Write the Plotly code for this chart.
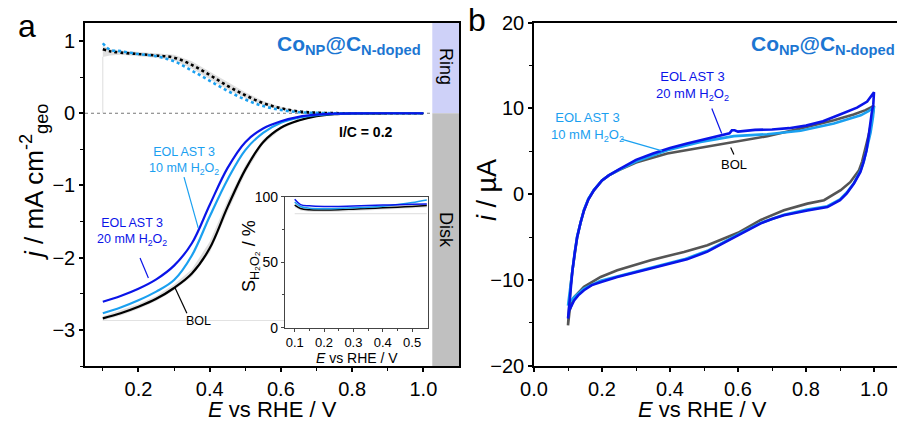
import plotly.graph_objects as go

W, H = 897, 423

# ---------------- Panel a: RRDE (disk + ring) ----------------
E_disk = [0.10, 0.15, 0.20, 0.25, 0.30, 0.35, 0.40, 0.45, 0.50, 0.55, 0.60, 0.65, 0.70, 0.75, 0.80, 0.90, 1.00]
disk_bol = [-2.84, -2.77, -2.68, -2.57, -2.42, -2.22, -1.87, -1.30, -0.78, -0.40, -0.20, -0.10, -0.04, -0.012, -0.003, 0.0, 0.0]
disk_bol_hi = [-2.81, -2.73, -2.64, -2.53, -2.37, -2.16, -1.78, -1.21, -0.72, -0.36, -0.18, -0.09, -0.035, -0.01, -0.002, 0.0, 0.0]
disk_bol_lo = [-2.87, -2.80, -2.71, -2.60, -2.45, -2.26, -1.93, -1.37, -0.83, -0.43, -0.22, -0.11, -0.045, -0.014, -0.004, 0.0, 0.0]
disk_eol10 = [-2.77, -2.69, -2.59, -2.47, -2.31, -1.97, -1.43, -0.92, -0.51, -0.27, -0.13, -0.06, -0.025, -0.01, -0.002, 0.0, 0.0]
disk_eol20 = [-2.61, -2.53, -2.43, -2.30, -2.11, -1.80, -1.27, -0.76, -0.40, -0.21, -0.11, -0.05, -0.02, -0.006, -0.001, 0.0, 0.0]

E_ring = [0.10, 0.12, 0.15, 0.20, 0.25, 0.30, 0.35, 0.40, 0.45, 0.50, 0.55, 0.60, 0.65, 0.70, 0.75, 0.80, 0.90, 1.00]
ring_bol = [0.885, 0.86, 0.84, 0.82, 0.80, 0.77, 0.67, 0.53, 0.38, 0.25, 0.14, 0.07, 0.025, 0.008, 0.002, 0.0, 0.0, 0.0]
ring_bol_hi = [0.93, 0.89, 0.87, 0.85, 0.83, 0.81, 0.72, 0.58, 0.43, 0.29, 0.17, 0.09, 0.035, 0.012, 0.004, 0.0, 0.0, 0.0]
ring_bol_lo = [0.78, 0.80, 0.81, 0.79, 0.77, 0.73, 0.62, 0.48, 0.33, 0.21, 0.11, 0.05, 0.015, 0.004, 0.001, 0.0, 0.0, 0.0]
ring_eol10 = [0.97, 0.88, 0.86, 0.82, 0.79, 0.72, 0.59, 0.45, 0.31, 0.19, 0.10, 0.045, 0.015, 0.005, 0.0, 0.0, 0.0, 0.0]

# inset: H2O2 selectivity
E_sel = [0.10, 0.12, 0.15, 0.20, 0.25, 0.30, 0.35, 0.40, 0.45, 0.50, 0.55]
sel_bol = [93.5, 91.0, 90.0, 89.8, 90.0, 90.5, 91.0, 91.5, 92.0, 92.6, 93.2]
sel_bol_hi = [95.0, 92.5, 91.5, 91.3, 91.5, 92.0, 92.5, 93.0, 93.5, 94.1, 94.7]
sel_bol_lo = [92.0, 89.5, 88.5, 88.3, 88.5, 89.0, 89.5, 90.0, 90.5, 91.1, 91.7]
sel_eol10 = [96.0, 92.5, 91.2, 90.8, 91.0, 91.5, 92.0, 92.8, 94.0, 95.5, 97.5]
sel_eol20 = [98.0, 94.0, 93.0, 92.5, 92.6, 92.9, 93.3, 93.6, 93.9, 94.2, 94.5]

# ---------------- Panel b: CVs (closed loops) ----------------
E_cv_bol = [0.100, 0.103, 0.108, 0.113, 0.120, 0.127, 0.137, 0.147, 0.160, 0.176, 0.200, 0.220, 0.250, 0.300, 0.392, 0.490, 0.588, 0.686, 0.784, 0.882, 0.940, 0.975, 1.000,
            0.995, 0.985, 0.975, 0.965, 0.956, 0.930, 0.902, 0.870, 0.853, 0.804, 0.735, 0.667, 0.600, 0.510, 0.441, 0.343, 0.245, 0.196, 0.147, 0.118, 0.105, 0.100]
i_cv_bol = [-15.3, -13.2, -10.6, -8.9, -6.8, -5.0, -3.3, -1.9, -0.6, 0.45, 1.6, 2.2, 2.8, 3.7, 4.75, 5.45, 6.1, 6.77, 7.66, 8.63, 9.3, 9.8, 10.3,
            9.0, 7.0, 5.3, 3.8, 2.8, 1.4, 0.47, -0.3, -0.7, -1.1, -1.87, -3.0, -4.5, -5.95, -6.73, -7.7, -8.87, -9.65, -10.8, -12.0, -13.5, -15.3]

E_cv_eol10 = [0.100, 0.103, 0.108, 0.113, 0.120, 0.127, 0.137, 0.147, 0.160, 0.176, 0.200, 0.220, 0.250, 0.300, 0.392, 0.490, 0.588, 0.686, 0.784, 0.882, 0.961, 0.985, 1.000,
              0.997, 0.990, 0.980, 0.970, 0.961, 0.941, 0.920, 0.900, 0.863, 0.804, 0.735, 0.667, 0.600, 0.510, 0.441, 0.343, 0.245, 0.196, 0.147, 0.118, 0.105, 0.100]
i_cv_eol10 = [-13.0, -12.0, -10.3, -8.8, -6.7, -4.9, -3.2, -1.8, -0.5, 0.5, 1.6, 2.2, 2.85, 3.8, 5.13, 6.1, 6.77, 7.0, 7.39, 8.25, 9.2, 9.7, 10.2,
              9.0, 7.2, 5.3, 3.8, 2.8, 1.3, 0.2, -0.6, -1.4, -1.8, -2.4, -3.35, -4.7, -6.6, -7.6, -8.6, -9.55, -10.1, -11.0, -12.0, -12.6, -13.0]

E_cv_eol20 = [0.100, 0.103, 0.108, 0.113, 0.120, 0.127, 0.137, 0.147, 0.160, 0.176, 0.200, 0.220, 0.250, 0.300, 0.350, 0.400, 0.450, 0.500, 0.550, 0.575, 0.582, 0.590, 0.600, 0.650, 0.700, 0.750, 0.800, 0.850, 0.900, 0.950, 0.980, 1.000,
              0.998, 0.993, 0.985, 0.978, 0.968, 0.960, 0.941, 0.920, 0.900, 0.863, 0.804, 0.735, 0.700, 0.667, 0.600, 0.550, 0.510, 0.450, 0.400, 0.343, 0.300, 0.245, 0.200, 0.170, 0.147, 0.130, 0.118, 0.110, 0.103, 0.100]
i_cv_eol20 = [-14.5, -13.0, -10.5, -8.9, -6.8, -5.0, -3.3, -1.9, -0.6, 0.45, 1.6, 2.2, 2.9, 4.0, 4.75, 5.4, 5.9, 6.4, 6.9, 7.1, 7.45, 7.45, 7.3, 7.5, 7.55, 7.7, 8.0, 8.5, 9.3, 10.1, 10.8, 11.9,
              10.5, 9.4, 7.0, 5.1, 3.6, 2.6, 1.25, 0.1, -0.7, -1.5, -1.9, -2.45, -2.9, -3.4, -4.8, -5.9, -6.7, -7.6, -8.1, -8.7, -9.1, -9.65, -10.2, -10.6, -11.2, -11.8, -12.4, -13.0, -13.6, -14.5]

# ---------------- styling ----------------
C_BOL = "#000000"
C_BOL_CV = "#555555"
C_EOL10 = "#1AA0F0"
C_EOL20 = "#0A14E8"
C_TITLE = "#1C76D2"
C_BAND = "rgba(150,150,150,0.3)"
FONT = "Liberation Sans"

def px(x):
    return x / W

def py(y):
    return 1 - y / H

fig = go.Figure()

# ring band + disk band (panel a)
fig.add_trace(go.Scatter(x=E_ring + E_ring[::-1], y=ring_bol_hi + ring_bol_lo[::-1], fill="toself",
                         fillcolor=C_BAND, line=dict(width=0), mode="lines", hoverinfo="skip",
                         xaxis="x", yaxis="y", showlegend=False))
fig.add_trace(go.Scatter(x=E_disk + E_disk[::-1], y=disk_bol_hi + disk_bol_lo[::-1], fill="toself",
                         fillcolor=C_BAND, line=dict(width=0), mode="lines", hoverinfo="skip",
                         xaxis="x", yaxis="y", showlegend=False))
# faint baselines of the error band
fig.add_trace(go.Scatter(x=[E_ring[0], E_ring[0]], y=[0, ring_bol_lo[0]], mode="lines",
                         line=dict(color="#dddddd", width=1), xaxis="x", yaxis="y", showlegend=False))
fig.add_trace(go.Scatter(x=[E_disk[0], E_disk[-1]], y=[disk_bol_lo[0], disk_bol_lo[0]], mode="lines",
                         line=dict(color="#e2e2e2", width=1), xaxis="x", yaxis="y", showlegend=False))
# zero line
fig.add_trace(go.Scatter(x=[0.05, 1.025], y=[0, 0], mode="lines",
                         line=dict(color="#777777", width=1, dash="dot"), xaxis="x", yaxis="y", showlegend=False))

# ring currents (dotted)
fig.add_trace(go.Scatter(x=E_ring, y=ring_bol, mode="lines", line=dict(color=C_BOL, width=2.6, dash="dot", shape="spline"),
                         xaxis="x", yaxis="y", showlegend=False))
fig.add_trace(go.Scatter(x=E_ring, y=ring_eol10, mode="lines", line=dict(color=C_EOL10, width=2.6, dash="dot", shape="spline"),
                         xaxis="x", yaxis="y", showlegend=False))
# disk currents
fig.add_trace(go.Scatter(x=E_disk, y=disk_bol, mode="lines", line=dict(color=C_BOL, width=2.2, shape="spline"),
                         xaxis="x", yaxis="y", name="BOL", showlegend=False))
fig.add_trace(go.Scatter(x=E_disk, y=disk_eol10, mode="lines", line=dict(color=C_EOL10, width=2.2, shape="spline"),
                         xaxis="x", yaxis="y", name="EOL AST 3 10 mM", showlegend=False))
fig.add_trace(go.Scatter(x=E_disk, y=disk_eol20, mode="lines", line=dict(color=C_EOL20, width=2.2, shape="spline"),
                         xaxis="x", yaxis="y", name="EOL AST 3 20 mM", showlegend=False))

# inset
fig.add_trace(go.Scatter(x=E_sel + E_sel[::-1], y=sel_bol_hi + sel_bol_lo[::-1], fill="toself",
                         fillcolor=C_BAND, line=dict(width=0), mode="lines", hoverinfo="skip",
                         xaxis="x3", yaxis="y3", showlegend=False))
fig.add_trace(go.Scatter(x=[E_sel[0], E_sel[-1]], y=[sel_bol_lo[2] - 1.5, sel_bol_lo[2] - 1.5], mode="lines",
                         line=dict(color="#dddddd", width=1), xaxis="x3", yaxis="y3", showlegend=False))
fig.add_trace(go.Scatter(x=E_sel, y=sel_bol, mode="lines", line=dict(color=C_BOL, width=1.5, shape="spline"),
                         xaxis="x3", yaxis="y3", showlegend=False))
fig.add_trace(go.Scatter(x=E_sel, y=sel_eol10, mode="lines", line=dict(color=C_EOL10, width=1.5, shape="spline"),
                         xaxis="x3", yaxis="y3", showlegend=False))
fig.add_trace(go.Scatter(x=E_sel, y=sel_eol20, mode="lines", line=dict(color=C_EOL20, width=1.5, shape="spline"),
                         xaxis="x3", yaxis="y3", showlegend=False))

# panel b CVs
fig.add_trace(go.Scatter(x=E_cv_bol, y=i_cv_bol, mode="lines", line=dict(color=C_BOL_CV, width=2.6),
                         xaxis="x2", yaxis="y2", showlegend=False))
fig.add_trace(go.Scatter(x=E_cv_eol10, y=i_cv_eol10, mode="lines", line=dict(color=C_EOL10, width=2.6),
                         xaxis="x2", yaxis="y2", showlegend=False))
fig.add_trace(go.Scatter(x=E_cv_eol20, y=i_cv_eol20, mode="lines", line=dict(color=C_EOL20, width=2.6),
                         xaxis="x2", yaxis="y2", showlegend=False))

tickfont = dict(family=FONT, size=20, color="#000")
axcommon = dict(showgrid=False, zeroline=False, showline=True, linecolor="#000", linewidth=1.6,
                ticks="outside", ticklen=4, tickwidth=1.5, tickcolor="#000", tickfont=tickfont,
                automargin=False)
minor_kw = dict(ticklen=3, tickwidth=1.3, tickcolor="#000", ticks="outside")

layout = dict(
    width=W, height=H, margin=dict(l=0, r=0, t=0, b=0, autoexpand=False),
    paper_bgcolor="white", plot_bgcolor="white", showlegend=False,
    font=dict(family=FONT, color="#000"),
    xaxis=dict(domain=[px(85), px(459)], range=[0.05, 1.1], anchor="y",
               tickvals=[0.2, 0.4, 0.6, 0.8, 1.0], ticktext=["0.2", "0.4", "0.6", "0.8", "1.0"],
               minor=dict(tickvals=[0.1, 0.3, 0.5, 0.7, 0.9], **minor_kw),
               mirror=True, **axcommon),
    yaxis=dict(domain=[py(366), py(23)], range=[-3.5, 1.25], anchor="x",
               tickvals=[-3, -2, -1, 0, 1],
               minor=dict(tickvals=[-3.5, -2.5, -1.5, -0.5, 0.5], **minor_kw),
               mirror=True, **axcommon),
    xaxis2=dict(domain=[px(534), 1.0], range=[0, 363 / 340], anchor="y2",
                tickvals=[0.0, 0.2, 0.4, 0.6, 0.8, 1.0], ticktext=["0.0", "0.2", "0.4", "0.6", "0.8", "1.0"],
                minor=dict(tickvals=[0.1, 0.3, 0.5, 0.7, 0.9], **minor_kw),
                mirror=True, **axcommon),
    yaxis2=dict(domain=[py(365.7), py(22.7)], range=[-20, 20], anchor="x2",
                tickvals=[-20, -10, 0, 10, 20],
                minor=dict(tickvals=[-15, -5, 5, 15], **minor_kw),
                **axcommon),
    xaxis3=dict(domain=[px(285), px(427.7)], range=[0.067, 0.553], anchor="y3", automargin=False,
                showgrid=False, zeroline=False, showline=True, linecolor="#444", linewidth=1.3, mirror=True,
                ticks="outside", ticklen=3, tickwidth=1, tickcolor="#444",
                tickvals=[0.1, 0.2, 0.3, 0.4, 0.5], ticktext=["0.1", "0.2", "0.3", "0.4", "0.5"],
                minor=dict(tickvals=[0.15, 0.25, 0.35, 0.45], ticklen=2, tickwidth=1, tickcolor="#444", ticks="outside"),
                tickfont=dict(family=FONT, size=13, color="#000")),
    yaxis3=dict(domain=[py(327.7), py(196.7)], range=[0, 100], anchor="x3", automargin=False,
                showgrid=False, zeroline=False, showline=True, linecolor="#444", linewidth=1.3, mirror=True,
                ticks="outside", ticklen=3, tickwidth=1, tickcolor="#444",
                tickvals=[0, 50, 100],
                minor=dict(tickvals=[25, 75], ticklen=2, tickwidth=1, tickcolor="#444", ticks="outside"),
                tickfont=dict(family=FONT, size=14, color="#000")),
)
fig.update_layout(**layout)

# Ring / Disk side strips
fig.add_shape(type="rect", xref="x", yref="y", x0=1.025, x1=1.1, y0=0, y1=1.25,
              fillcolor="#CED1F8", line=dict(width=0), layer="below")
fig.add_shape(type="rect", xref="x", yref="y", x0=1.025, x1=1.1, y0=-3.5, y1=0,
              fillcolor="#C0C0C0", line=dict(width=0), layer="below")


def pann(text, x, y, size, color="#000", angle=0, xanchor="center", yanchor="middle"):
    return dict(text=text, x=px(x), y=py(y), xref="paper", yref="paper", showarrow=False,
                xanchor=xanchor, yanchor=yanchor, textangle=angle,
                font=dict(family=FONT, size=size, color=color))


ann = []
ann.append(pann("Ring", 446, 66, 18, angle=90))
ann.append(pann("Disk", 446, 230, 18, angle=90))
# panel letters
ann.append(pann("a", 27, 26, 32))
ann.append(pann("b", 477, 20, 32))
# axis titles
ann.append(pann("<i>j</i> / mA cm<sup>-2</sup><sub>geo</sub>", 34, 182, 26, angle=-90))
ann.append(pann("<i>i</i> / µA", 487, 190, 27, angle=-90))
ann.append(pann("<i>E</i> vs RHE / V", 272, 409.5, 22))
ann.append(pann("<i>E</i> vs RHE / V", 702, 409.5, 22))
ann.append(pann("<i>E</i> vs RHE / V", 357, 358, 14))
ann.append(pann("S<sub>H₂O₂</sub> / %", 250, 256, 18, angle=-90))
# catalyst titles
for xr in (423, 897):
    ann.append(pann("<b>Co<sub>NP</sub>@C<sub>N-doped</sub></b>", xr, 45, 21, color=C_TITLE, xanchor="right"))
# panel a labels
ann.append(dict(text="<b>I/C = 0.2</b>", x=0.839, y=-0.26, xref="x", yref="y", showarrow=False,
                font=dict(family=FONT, size=14, color="#000")))
ann.append(dict(text="EOL AST 3<br>10 mM H<sub>2</sub>O<sub>2</sub>", x=0.328, y=-0.66, xref="x", yref="y",
                showarrow=False, font=dict(family=FONT, size=12.5, color=C_EOL10)))
ann.append(dict(text="EOL AST 3<br>20 mM H<sub>2</sub>O<sub>2</sub>", x=0.182, y=-1.64, xref="x", yref="y",
                showarrow=False, font=dict(family=FONT, size=12.5, color=C_EOL20)))
ann.append(dict(text="BOL", x=0.37, y=-2.87, xref="x", yref="y", showarrow=False,
                font=dict(family=FONT, size=12.5, color="#000")))
# panel b labels
ann.append(dict(text="EOL AST 3<br>20 mM H<sub>2</sub>O<sub>2</sub>", x=0.465, y=12.6, xref="x2", yref="y2",
                showarrow=False, font=dict(family=FONT, size=13, color=C_EOL20)))
ann.append(dict(text="EOL AST 3<br>10 mM H<sub>2</sub>O<sub>2</sub>", x=0.156, y=7.82, xref="x2", yref="y2",
                showarrow=False, font=dict(family=FONT, size=13, color=C_EOL10)))
ann.append(dict(text="BOL", x=0.588, y=3.5, xref="x2", yref="y2", showarrow=False,
                font=dict(family=FONT, size=13, color="#000")))
fig.update_layout(annotations=ann)

# leader lines
leaders = [
    ("x", "y", 0.328, -0.885, 0.368, -1.59, C_EOL10),
    ("x", "y", 0.2045, -2.005, 0.228, -2.28, C_EOL20),
    ("x", "y", 0.303, -2.42, 0.336, -2.77, "#000"),
    ("x2", "y2", 0.523, 10.0, 0.552, 7.08, C_EOL20),
    ("x2", "y2", 0.257, 6.42, 0.377, 5.05, C_EOL10),
    ("x2", "y2", 0.5785, 5.45, 0.588, 4.63, "#000"),
]
for xr, yr, x0, y0, x1, y1, c in leaders:
    fig.add_shape(type="line", xref=xr, yref=yr, x0=x0, y0=y0, x1=x1, y1=y1, line=dict(color=c, width=1.2))

fig.write_html("out.html")
